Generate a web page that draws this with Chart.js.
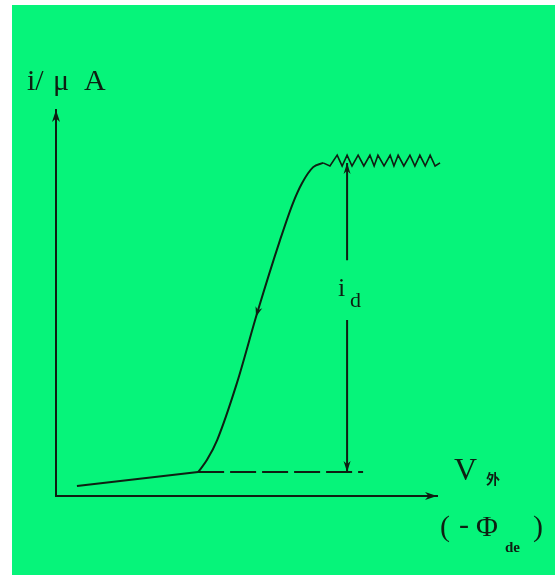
<!DOCTYPE html>
<html>
<head>
<meta charset="utf-8">
<script src="https://cdn.jsdelivr.net/npm/chart.js@4.4.1/dist/chart.umd.min.js"></script>
<style>
  html, body { margin: 0; padding: 0; background: #fff; }
  #wrap { width: 560px; height: 577px; }
</style>
</head>
<body>
<div id="wrap"><canvas id="waveChart" width="560" height="577"></canvas></div>
<script>
// polarographic wave, potential (x) vs current (y), both in arbitrary units 0..100
const baseV = [5.5, 37.3];
const baseI = [2.6, 6.2];

const riseV = [37.3, 39.6, 42.3, 47.5, 52.8, 58.8, 62.2, 64.6, 67.5, 70.1];
const riseI = [6.2, 9.3, 14.5, 29.3, 47.4, 66.3, 75.9, 81.1, 85.2, 86.3];
const riseArrowAt = 4;

// limiting current plateau (jagged from the dropping electrode)
const plateauV = [70.1, 71.9, 73.8, 75.1, 76.4, 77.7, 79.3, 80.8, 82.4, 83.5, 84.5, 86.1,
                  87.7, 88.7, 89.8, 91.3, 92.9, 94.2, 95.5, 96.9, 98.2, 99.5, 100.8];
const plateauI = [86.3, 85.5, 88.3, 85.5, 88.3, 85.5, 88.3, 85.5, 88.3, 85.5, 88.3, 85.5,
                  88.3, 85.5, 88.3, 85.5, 88.3, 85.5, 88.3, 85.5, 88.3, 85.5, 86.3];

// residual current extended under the wave
const residualV = [37.3, 80.6];
const residualI = [6.2, 6.2];

// diffusion current i_d marker
const idV = 76.4;
const idI = [86.3, 61.1, null, 45.6, 6.2];

const ink = '#0e1f12';
const pts = (xs, ys) => xs.map((x, i) => ({ x: x, y: ys[i] }));

function arrowHead(ctx, x, y, ang, len, half) {
    ctx.save();
    ctx.translate(x, y);
    ctx.rotate(ang);
    ctx.beginPath();
    ctx.moveTo(0, 0);
    ctx.lineTo(-len, -half);
    ctx.lineTo(-len * 0.7, 0);
    ctx.lineTo(-len, half);
    ctx.closePath();
    ctx.fillStyle = ink;
    ctx.fill();
    ctx.restore();
}

const decor = {
    id: 'decor',
    beforeDraw(chart) {
        const ctx = chart.ctx;
        ctx.save();
        ctx.fillStyle = '#ffffff';
        ctx.fillRect(0, 0, chart.width, chart.height);
        ctx.fillStyle = '#06f47a';
        ctx.fillRect(12, 5, 543, 570);
        ctx.restore();
    },
    afterDraw(chart) {
        const ctx = chart.ctx;
        const xs = chart.scales.x, ys = chart.scales.y;
        const a = chart.chartArea;

        // axis arrows
        arrowHead(ctx, a.left, a.top, -Math.PI / 2, 12, 4);
        arrowHead(ctx, a.right, a.bottom, 0, 12, 4);

        // direction arrow on the rising part
        const px = i => ({ x: xs.getPixelForValue(riseV[i]), y: ys.getPixelForValue(riseI[i]) });
        const p1 = px(riseArrowAt + 1), p0 = px(riseArrowAt - 1), mid = px(riseArrowAt);
        const ang = Math.atan2(p0.y - p1.y, p0.x - p1.x);
        arrowHead(ctx, mid.x + Math.cos(ang) * 4, mid.y + Math.sin(ang) * 4, ang, 10, 3.5);

        // i_d arrow heads
        const ix = xs.getPixelForValue(idV);
        arrowHead(ctx, ix, ys.getPixelForValue(idI[0]), -Math.PI / 2, 11, 3.5);
        arrowHead(ctx, ix, ys.getPixelForValue(idI[4]), Math.PI / 2, 11, 3.5);

        ctx.save();
        ctx.fillStyle = ink;
        ctx.textBaseline = 'alphabetic';
        ctx.textAlign = 'left';

        // y-axis label
        ctx.font = '30px "Liberation Serif", serif';
        ctx.fillText('i/', 27, 90);
        ctx.fillText('\u03bc', 53, 90);
        ctx.fillText('A', 84, 90);

        // x-axis label
        ctx.font = '32px "Liberation Serif", serif';
        ctx.fillText('V', 454, 480);
        ctx.font = 'bold 14px "Noto Sans CJK SC", sans-serif';
        ctx.fillText('外', 486, 484);
        ctx.font = '30px "Liberation Serif", serif';
        ctx.fillText('(', 440, 536);
        ctx.fillText('-', 459, 534);
        ctx.fillText('\u03a6', 476, 536);
        ctx.fillText(')', 533, 536);
        ctx.font = 'bold 15px "Liberation Serif", serif';
        ctx.fillText('de', 505, 552);

        // i_d label
        const ly = ys.getPixelForValue((idI[1] + idI[3]) / 2);
        ctx.font = '26px "Liberation Serif", serif';
        ctx.fillText('i', ix - 9, ly + 6);
        ctx.font = '22px "Liberation Serif", serif';
        ctx.fillText('d', ix + 3, ly + 17);
        ctx.restore();
    }
};

const lineStyle = {
    borderColor: ink,
    borderWidth: 2,
    pointRadius: 0,
    fill: false,
    clip: false
};

new Chart(document.getElementById('waveChart').getContext('2d'), {
    type: 'line',
    data: {
        datasets: [
            Object.assign({ label: 'base', data: pts(baseV, baseI), tension: 0 }, lineStyle),
            Object.assign({ label: 'rise', data: pts(riseV, riseI), cubicInterpolationMode: 'monotone' }, lineStyle),
            Object.assign({ label: 'plateau', data: pts(plateauV, plateauI), tension: 0 }, lineStyle, { borderWidth: 1.6 }),
            Object.assign({ label: 'residual', data: pts(residualV, residualI), borderDash: [26, 6] }, lineStyle),
            Object.assign({ label: 'id', data: idI.map(v => ({ x: idV, y: v })), spanGaps: false }, lineStyle)
        ]
    },
    options: {
        responsive: false,
        animation: false,
        events: [],
        layout: { padding: { left: 56, right: 123, top: 110, bottom: 81 } },
        plugins: {
            legend: { display: false },
            tooltip: { enabled: false }
        },
        scales: {
            x: {
                type: 'linear',
                min: 0,
                max: 100,
                grid: { display: false, drawTicks: false, tickLength: 0 },
                ticks: { display: false },
                border: { display: true, color: ink, width: 2 }
            },
            y: {
                type: 'linear',
                min: 0,
                max: 100,
                grid: { display: false, drawTicks: false, tickLength: 0 },
                ticks: { display: false },
                border: { display: true, color: ink, width: 2 }
            }
        }
    },
    plugins: [decor]
});
</script>
</body>
</html>
